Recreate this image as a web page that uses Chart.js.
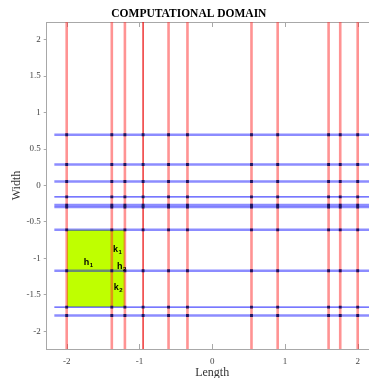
<!DOCTYPE html>
<html>
<head>
<meta charset="utf-8">
<script src="https://cdn.jsdelivr.net/npm/chart.js@4.4.0/dist/chart.umd.min.js"></script>
<style>
  html, body { margin: 0; padding: 0; background: #fff; overflow: hidden; }
  #wrap { width: 424px; height: 395px; }
</style>
</head>
<body>
<div id="wrap"><canvas id="chart" width="424" height="395"></canvas></div>
<script>
// grid lines of the domain
const xLines = [-2, -1.38, -1.2, -0.95, -0.6, -0.34, 0.54, 0.9, 1.6, 1.76, 2]
const xLineDark = [false, false, false, true, false, false, false, false, false, false, false]
const yLines = [0.695, 0.288, 0.055, -0.155, -0.268, -0.296, -0.607, -1.168, -1.666, -1.781]
const yLineThin = [false, false, false, true, false, false, false, false, true, false]

// highlighted cell
const cellX = [-2, -1.2]
const cellY = [-0.607, -1.666]

// cell annotations
const noteText = ['h', 'k', 'h', 'k']
const noteSub = ['1', '1', '2', '2']
const noteX = [-1.71, -1.31, -1.255, -1.3]
const noteY = [-1.045, -0.865, -1.1, -1.39]

const xTicks = [-2, -1, 0, 1, 2]
const yTicks = [-2, -1.5, -1, -0.5, 0, 0.5, 1, 1.5, 2]

const X_MIN = -2.275, X_MAX = 2.275
const Y_MIN = -2.24, Y_MAX = 2.24
const H_START = -2.17, H_END = 2.2

const datasets = []

// green cell: fill between top edge and bottom edge
datasets.push({
  data: cellX.map(x => ({ x: x, y: cellY[0] })),
  showLine: true, borderWidth: 0, pointRadius: 0,
  backgroundColor: '#bfff00', fill: '+1', order: 10
})
datasets.push({
  data: cellX.map(x => ({ x: x, y: cellY[1] })),
  showLine: true, borderWidth: 0, pointRadius: 0, fill: false, order: 10
})

// horizontal blue lines
yLines.forEach((y, i) => {
  datasets.push({
    data: [{ x: H_START, y: y }, { x: H_END, y: y }],
    showLine: true, pointRadius: 0, fill: false,
    borderColor: yLineThin[i] ? 'rgba(30,30,255,0.8)' : 'rgba(0,0,255,0.45)',
    borderWidth: yLineThin[i] ? 1.3 : 2.4, order: 8
  })
})

// vertical red lines
xLines.forEach((x, i) => {
  datasets.push({
    data: [{ x: x, y: Y_MIN }, { x: x, y: Y_MAX }],
    showLine: true, pointRadius: 0, fill: false,
    borderColor: xLineDark[i] ? 'rgba(235,0,0,0.85)' : 'rgba(255,40,40,0.5)',
    borderWidth: xLineDark[i] ? 1.4 : 2.6, order: 6
  })
})

// nodes at the intersections
const nodes = []
yLines.forEach(y => xLines.forEach(x => nodes.push({ x: x, y: y })))
datasets.push({
  data: nodes, showLine: false, pointStyle: 'rect',
  pointRadius: 2, pointHoverRadius: 2,
  backgroundColor: '#1c1660', borderColor: '#1c1660', borderWidth: 0, order: 1
})

// box border, inner x ticks and cell labels
const decor = {
  id: 'decor',
  beforeDatasetsDraw(chart) {
    const { ctx, chartArea: a, scales } = chart
    ctx.save()
    ctx.strokeStyle = '#a8a8a8'
    ctx.lineWidth = 1
    ctx.beginPath()
    ctx.moveTo(a.left, a.top + 0.5)
    ctx.lineTo(a.right, a.top + 0.5)
    ctx.lineTo(a.right, a.bottom)
    xTicks.forEach(v => {
      const px = Math.round(scales.x.getPixelForValue(v)) + 0.5
      ctx.moveTo(px, a.bottom)
      ctx.lineTo(px, a.bottom - 5)
      ctx.moveTo(px, a.top)
      ctx.lineTo(px, a.top + 5)
    })
    ctx.stroke()
    ctx.restore()
  },
  afterDatasetsDraw(chart) {
    const { ctx, scales } = chart
    ctx.save()
    ctx.fillStyle = '#000'
    ctx.textBaseline = 'alphabetic'
    noteText.forEach((t, i) => {
      const px = scales.x.getPixelForValue(noteX[i])
      const py = scales.y.getPixelForValue(noteY[i])
      ctx.font = 'bold 9px "Liberation Sans", Arial, sans-serif'
      const w = ctx.measureText(t).width
      ctx.fillText(t, px - 4, py + 3)
      ctx.font = 'bold 6px "Liberation Sans", Arial, sans-serif'
      ctx.fillText(noteSub[i], px - 4 + w + 0.5, py + 5)
    })
    ctx.restore()
  }
}

new Chart(document.getElementById('chart'), {
  type: 'scatter',
  data: { datasets: datasets },
  plugins: [decor],
  options: {
    responsive: false,
    animation: false,
    events: [],
    layout: { padding: { left: 0, right: 46.3, top: 0, bottom: 0 } },
    plugins: {
      legend: { display: false },
      tooltip: { enabled: false },
      title: {
        display: true,
        text: 'COMPUTATIONAL DOMAIN',
        color: '#000',
        font: { family: '"Liberation Serif", "Times New Roman", serif', size: 11.5, weight: 'bold' },
        padding: { top: 7.3, bottom: 0.9 }
      }
    },
    scales: {
      x: {
        type: 'linear',
        min: X_MIN, max: X_MAX,
        afterFit: s => { s.height = 46 },
        afterBuildTicks: s => { s.ticks = xTicks.map(v => ({ value: v })) },
        grid: { drawOnChartArea: false, drawTicks: false },
        border: { color: '#a8a8a8' },
        ticks: {
          color: '#444', padding: 7,
          callback: v => String(v),
          font: { family: '"Liberation Serif", "Times New Roman", serif', size: 9 }
        },
        title: {
          display: true, text: 'Length', color: '#333',
          font: { family: '"Liberation Serif", "Times New Roman", serif', size: 12 },
          padding: { top: 0, bottom: 14.6 }
        }
      },
      y: {
        type: 'linear',
        min: Y_MIN, max: Y_MAX,
        afterFit: s => { s.width = 46.7 },
        afterBuildTicks: s => { s.ticks = yTicks.map(v => ({ value: v })) },
        grid: { drawOnChartArea: false, drawTicks: true, tickLength: 3, color: '#a8a8a8' },
        border: { color: '#a8a8a8' },
        ticks: {
          color: '#444', padding: 3,
          callback: v => String(v),
          font: { family: '"Liberation Serif", "Times New Roman", serif', size: 9 }
        },
        title: {
          display: true, text: 'Width', color: '#333',
          font: { family: '"Liberation Serif", "Times New Roman", serif', size: 12 },
          padding: { top: 9.5, bottom: 0 }
        }
      }
    }
  }
})
</script>
</body>
</html>
